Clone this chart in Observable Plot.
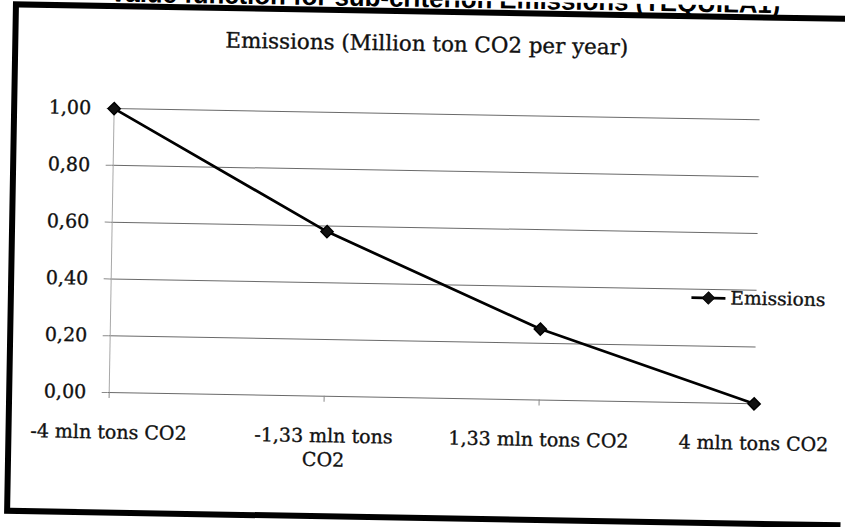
<!DOCTYPE html>
<html>
<head>
<meta charset="utf-8">
<script src="https://cdn.jsdelivr.net/npm/d3@7"></script>
<script src="https://cdn.jsdelivr.net/npm/@observablehq/plot@0.6"></script>
<style>
  html, body { margin: 0; padding: 0; background: #fff; }
  body { width: 845px; height: 527px; overflow: hidden; position: relative; }
  #page { position: absolute; left: 0; top: 0; width: 845px; height: 527px;
          transform: rotate(1deg); transform-origin: 422px 263px; }
  #chart, #overlay { position: absolute; left: 0; top: 0; }
  #overlay { pointer-events: none; }
  /* heavier glyphs, like a dark photocopy */
  #chart text, #overlay text.serif { stroke: #111; stroke-width: 0.35px; }
</style>
</head>
<body>
<div id="page">
  <div id="chart"></div>
  <svg id="overlay" width="845" height="527"></svg>
</div>
<script>
// Category labels along the x axis (the second one wraps onto two lines)
const categories = ["-4 mln tons CO2", "-1,33 mln tons\nCO2", "1,33 mln tons CO2", "4 mln tons CO2"];
// Value function scores for each emission level
const values = [1.00, 0.58, 0.25, 0.00];
// Y axis tick values
const yTicks = [0, 0.2, 0.4, 0.6, 0.8, 1.0];
const seriesName = "Emissions";
const chartTitle = "Emissions (Million ton CO2 per year)";
const headerText = "Value function for sub-criterion Emissions (TEQUILA1)";

const data = categories.map((category, i) => ({category, value: values[i]}));
const serif = "'DejaVu Serif', 'Liberation Serif', serif";
const commaFormat = d => d.toFixed(2).replace(".", ",");

const chart = Plot.plot({
  width: 845,
  height: 527,
  marginLeft: 110,
  marginRight: 88,
  marginTop: 113.5,
  marginBottom: 129.5,
  style: {fontFamily: serif, fontSize: "19px", background: "transparent", color: "#111"},
  x: {type: "point", domain: categories, padding: 0, label: null},
  y: {domain: [0, 1], label: null},
  marks: [
    Plot.gridY(yTicks, {stroke: "#6a6a6a", strokeOpacity: 1, strokeWidth: 1}),
    Plot.ruleX([categories[0]], {stroke: "#a8a8a8", strokeWidth: 1}),
    Plot.axisY(yTicks, {tickSize: 6, tickPadding: 16, stroke: "#8a8a8a", fill: "#111",
                        fontSize: 19, tickFormat: commaFormat, label: null}),
    Plot.axisX({tickSize: 6, tickPadding: 23, stroke: "#8a8a8a", fill: "#111",
                fontSize: 19, lineHeight: 1.26, label: null}),
    Plot.line(data, {x: "category", y: "value", stroke: "#000", strokeWidth: 2.75}),
    Plot.dot(data, {x: "category", y: "value", symbol: "diamond2", r: 5.5, fill: "#111", stroke: "#000"})
  ]
});
document.getElementById("chart").appendChild(chart);

// Frame, page heading, chart title and legend
const overlay = d3.select("#overlay");
overlay.append("rect")
  .attr("x", 11.5).attr("y", 11.5).attr("width", 900).attr("height", 506.5)
  .attr("fill", "none").attr("stroke", "#000").attr("stroke-width", 6);
overlay.append("text")
  .attr("x", 105).attr("y", 7)
  .attr("font-family", "'Liberation Sans', Arial, sans-serif")
  .attr("font-weight", "bold").attr("font-size", 25.8).attr("fill", "#000")
  .text(headerText);
overlay.append("text").attr("class", "serif")
  .attr("x", 423).attr("y", 51).attr("text-anchor", "middle")
  .attr("font-family", serif).attr("font-size", 21.4).attr("fill", "#111")
  .text(chartTitle);
const legend = overlay.append("g");
legend.append("line")
  .attr("x1", 692).attr("x2", 726).attr("y1", 293).attr("y2", 293)
  .attr("stroke", "#000").attr("stroke-width", 2.75);
legend.append("path")
  .attr("transform", "translate(709,293)")
  .attr("d", d3.symbol(d3.symbolDiamond2, Math.PI * 5.5 * 5.5)())
  .attr("fill", "#111").attr("stroke", "#000");
legend.append("text").attr("class", "serif")
  .attr("x", 731).attr("y", 299)
  .attr("font-family", serif).attr("font-size", 18.6).attr("fill", "#111")
  .text(seriesName);
</script>
</body>
</html>
